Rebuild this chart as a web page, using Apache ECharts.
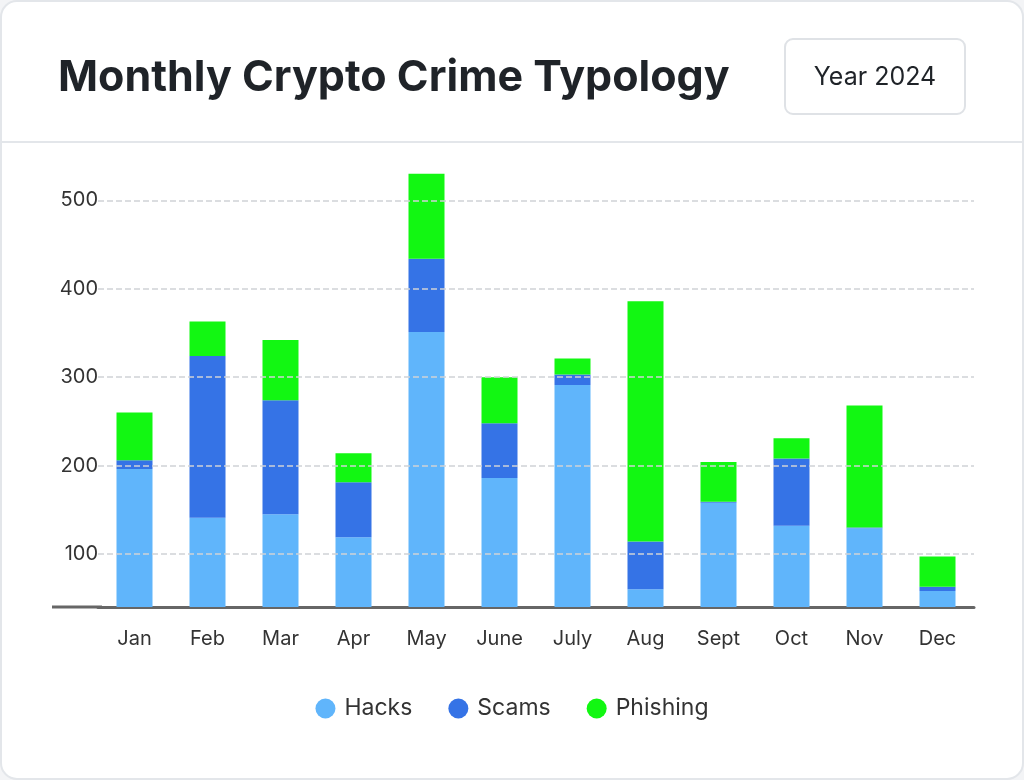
<!DOCTYPE html>
<html><head><meta charset="utf-8">
<script src="https://cdn.jsdelivr.net/npm/echarts@6/dist/echarts.min.js"></script>
<style>html,body{margin:0;background:#f3f4f6}#c{width:1024px;height:780px}</style>
</head><body><div id="c"></div>
<script>
const categories=['Jan','Feb','Mar','Apr','May','June','July','Aug','Sept','Oct','Nov','Dec'];
const hacks=[196,141,145,119,351,186,291,60,158,132,129,58];
const scams=[10,183,129,62,83,62,12,54,1,76,1,5];
const phishing=[54,39,68,33,96,52,18,272,45,23,138,34];
const yTicks=[100,200,300,400,500];
const chart=echarts.init(document.getElementById('c'));
const font='Inter, "Noto Sans", sans-serif';
chart.setOption({
  animation:false,
  textStyle:{fontFamily:font},
  graphic:[
    {type:'rect',shape:{x:1,y:1,width:1022,height:778,r:16},style:{fill:'#fff',stroke:'#e3e6ea',lineWidth:2},z:-10},
    {type:'line',shape:{x1:1,y1:142,x2:1023,y2:142},style:{stroke:'#e3e6ea',lineWidth:2},z:-9},
    {type:'text',x:58,y:78,style:{text:'Monthly Crypto Crime Typology',font:'bold 43px '+font,fill:'#1f2328',verticalAlign:'middle'}},
    {type:'rect',shape:{x:785,y:39,width:180,height:75,r:8},style:{fill:'#fff',stroke:'#dfe2e6',lineWidth:2}},
    {type:'text',x:875,y:77,style:{text:'Year 2024',font:'25px '+font,fill:'#1f2328',align:'center',verticalAlign:'middle'}},
    {type:'rect',shape:{x:52,y:605.5,width:50,height:3},style:{fill:'#666'},z:10}
  ],
  grid:{left:98,right:50,top:165,bottom:173},
  legend:{bottom:55,icon:'circle',itemWidth:20,itemHeight:20,itemGap:36,textStyle:{fontSize:23,color:'#333',fontFamily:font,padding:[0,0,0,4]},data:['Hacks','Scams','Phishing']},
  xAxis:{type:'category',data:categories,axisLine:{lineStyle:{color:'#666',width:3}},axisTick:{show:false},
    axisLabel:{fontSize:20,color:'#333',margin:22}},
  yAxis:{type:'value',min:40,max:540,splitLine:{show:false},axisLine:{show:false},axisTick:{show:false},
    axisLabel:{customValues:yTicks,fontSize:20,color:'#333',margin:0}},
  series:[
    {name:'grid',type:'line',data:[],z:0,silent:true,
      markLine:{silent:true,symbol:'none',label:{show:false},lineStyle:{color:'#cfd2d6',type:'dashed',width:1.5},data:yTicks.map(v=>({yAxis:v}))}},
    {name:'Hacks',type:'bar',stack:'a',data:hacks,barWidth:36,itemStyle:{color:'#60b5fb'},z:3},
    {name:'Scams',type:'bar',stack:'a',data:scams,barWidth:36,itemStyle:{color:'#3573e6'},z:3},
    {name:'Phishing',type:'bar',stack:'a',data:phishing,barWidth:36,itemStyle:{color:'#12f712'},z:3}
  ]
});
</script></body></html>
